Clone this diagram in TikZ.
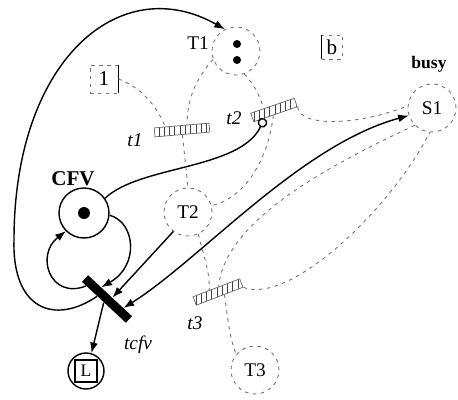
\documentclass[tikz,border=0pt]{standalone}
\usepackage{fontspec}
\setmainfont{Liberation Serif}
\usetikzlibrary{arrows.meta,calc,patterns}

\begin{document}
\begin{tikzpicture}[x=0.02cm,y=-0.02cm,>={Latex[length=6pt,width=4.5pt]},
  place/.style={circle,draw,line width=0.8pt,minimum size=1cm,inner sep=0pt},
  ghost/.style={draw=black!55,dash pattern=on 2pt off 2.5pt,line width=0.5pt},
  gplace/.style={circle,ghost,minimum size=0.96cm,inner sep=0pt,font=\fontsize{11}{13}\selectfont},
  gtrans/.style={rectangle,draw=black!60,pattern=vertical lines,pattern color=black!75,minimum height=0.18cm,inner sep=0pt},
  arc/.style={->,line width=0.8pt},
  garc/.style={black!55,dash pattern=on 2pt off 2.5pt,line width=0.5pt},
  token/.style={circle,fill,inner sep=0pt,minimum size=#1},
  token/.default=0.2cm,
  tlabel/.style={font=\fontsize{11}{13}\selectfont\itshape}]
\useasboundingbox (0,0) rectangle (458,400);

% places
\node[place] (CFV) at (84,213) {};
\node[token=0.24cm] (cfvtok) at (CFV) {};
\node[font=\bfseries\fontsize{12}{14}\selectfont] (cfvlbl) at (73,179) {CFV};
\node[place,minimum size=0.72cm] (L) at (86,371) {};
\node[draw,line width=0.8pt,minimum size=0.44cm,inner sep=0pt,font=\fontsize{10}{12}\selectfont] (Lbox) at (L) {L};
\node[gplace] (T1) at (236,51) {};
\node[token=0.16cm] (tokA) at (237,44) {};
\node[token=0.16cm] (tokB) at (237,60) {};
\node[font=\fontsize{11}{13}\selectfont] (T1lbl) at (198,43) {T1};
\node[gplace] (T2) at (188,212) {T2};
\node[gplace] (T3) at (255,370) {T3};
\node[gplace] (S1) at (432,108) {S1};
\node[font=\bfseries\fontsize{10}{12}\selectfont] (busylbl) at (429,64) {busy};
\node[ghost,rectangle,minimum size=0.56cm,inner sep=0pt,font=\fontsize{12}{14}\selectfont] (box1) at (104,79) {1};
\draw[line width=0.6pt] (box1.north east) -- (box1.south east);
\node[ghost,rectangle,minimum width=0.42cm,minimum height=0.48cm,inner sep=0pt,font=\fontsize{12}{14}\selectfont] (boxb) at (332,47) {b};
\draw[line width=0.6pt] (boxb.north west) -- (boxb.south west);

% transitions
\node[fill,minimum width=1.2cm,minimum height=0.18cm,inner sep=0pt,rotate=-43] (tcfv) at (107,299) {};
\node[gtrans,minimum width=1.1cm,rotate=5] (t1) at (182,130) {};
\node[gtrans,minimum width=0.92cm,rotate=19] (t2) at (274,110) {};
\node[gtrans,minimum width=1.0cm,rotate=21] (t3) at (218,292) {};
\node[tlabel] (t1lbl) at (135,140) {t1};
\node[tlabel] (t2lbl) at (234,118) {t2};
\node[tlabel] (t3lbl) at (195,323) {t3};
\node[tlabel] (tcfvlbl) at (138,345) {tcfv};

% solid arcs
\draw[arc] ($(tcfv.south west)!0.35!(tcfv.south east)$) .. controls (55,325) and (12,310) .. (14,240)
  .. controls (14,60) and (120,-30) .. (T1.117);
\draw[arc] ($(tcfv.south west)!0.1!(tcfv.south east)$) .. controls (50,300) and (35,255) .. (CFV.225);
\draw[arc] (CFV.-5) .. controls (135,222) and (140,265) .. ($(tcfv.north west)!0.3!(tcfv.north east)$);
\draw[arc] (T2.233) -- ($(tcfv.north west)!0.55!(tcfv.north east)$);
\draw[<->,line width=0.8pt] ($(tcfv.north west)!0.8!(tcfv.north east)$) .. controls (200,260) and (300,145) .. (S1.198);
\draw[arc] (tcfv.south) -- (L.73);
\draw[line width=0.8pt,-{Circle[open,length=5.5pt]}] (CFV.35) .. controls (140,165) and (240,170) .. ($(t2.south west)!0.25!(t2.south east)$);

% hidden arcs
\draw[garc] (box1.east) .. controls (135,85) and (155,100) .. ($(t1.north west)!0.2!(t1.north east)$);
\draw[garc] (T1.200) .. controls (195,80) and (187,100) .. ($(t1.north west)!0.6!(t1.north east)$);
\draw[garc] (t1.south) -- (T2.north);
\draw[garc] (T1.-70) .. controls (250,80) and (258,90) .. ($(t2.north west)!0.3!(t2.north east)$);
\draw[garc] ($(t2.south west)!0.45!(t2.south east)$) .. controls (268,160) and (245,198) .. (T2.15);
\draw[garc] (t2.south east) .. controls (300,128) and (360,125) .. (S1.175);
\draw[garc] (T2.-65) .. controls (203,255) and (210,270) .. ($(t3.north west)!0.35!(t3.north east)$);
\draw[garc] ($(t3.south west)!0.6!(t3.south east)$) .. controls (228,320) and (230,340) .. (T3.140);
\draw[garc] (S1.225) .. controls (330,165) and (225,220) .. ($(t3.north west)!0.55!(t3.north east)$);
\draw[garc] (t3.south east) .. controls (290,305) and (390,210) .. (S1.-95);
\end{tikzpicture}
\end{document}
